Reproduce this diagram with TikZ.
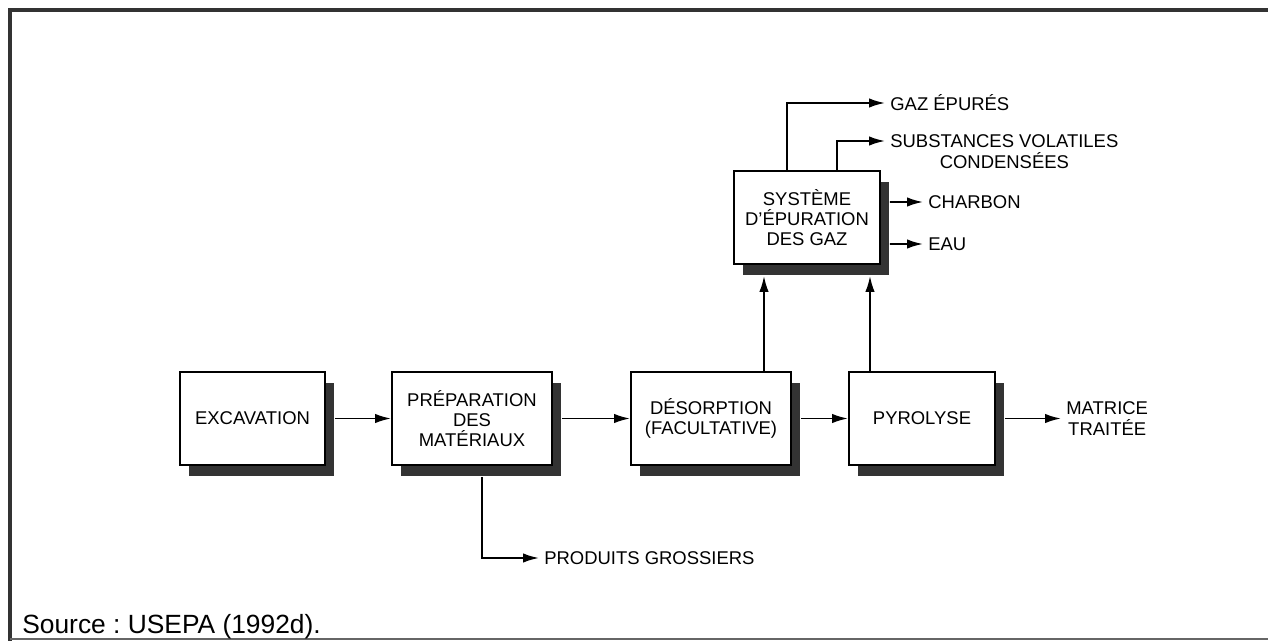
\documentclass[tikz,border=0pt]{standalone}
\usepackage{fontspec}
\setmainfont{Liberation Sans}
\usetikzlibrary{arrows.meta,shadows}

\begin{document}
\begin{tikzpicture}[
    bloc/.style={draw, line width=1.1pt, fill=white, rectangle,
                 minimum height=1.86cm, align=center,
                 font=\fontsize{10.5}{11.4}\selectfont,
                 drop shadow={shadow xshift=0.18cm, shadow yshift=-0.22cm,
                              fill=black!80, opacity=1}},
    flux/.style={-{Latex[length=0.32cm,width=0.19cm]}, line width=1.1pt},
    sortie/.style={anchor=west, inner sep=0.1cm, align=center,
                   font=\fontsize{10.5}{11.8}\selectfont}
]
\useasboundingbox (0,0) rectangle (25.36,-12.82);

% Cadre
\draw[line width=0.08cm, black!80] (0.2,-12.82) -- (0.2,-0.2) -- (25.36,-0.2);
\draw[line width=0.03cm, black!60] (0.2,-12.78) -- (25.36,-12.78);

% Blocs
\node[bloc, minimum width=2.9cm]  (exc)  at (5.05,-8.37)  {EXCAVATION};
\node[bloc, minimum width=3.2cm]  (prep) at (9.44,-8.37)  {PRÉPARATION\\DES\\MATÉRIAUX};
\node[bloc, minimum width=3.2cm]  (des)  at (14.22,-8.37) {DÉSORPTION\\(FACULTATIVE)};
\node[bloc, minimum width=2.92cm] (pyr)  at (18.44,-8.37) {PYROLYSE};
\node[bloc, minimum width=2.92cm] (sys)  at (16.14,-4.35) {SYSTÈME\\D'ÉPURATION\\DES GAZ};

% Sorties
\node[sortie] (matrice) at (21.22,-8.37) {MATRICE\\TRAITÉE};
\node[sortie] (prod)    at (10.78,-11.16) {PRODUITS GROSSIERS};
\node[sortie] (gaz)     at (17.7,-2.06)  {GAZ ÉPURÉS};
\node[sortie] (subs)    at (17.7,-3.03)  {SUBSTANCES VOLATILES\\CONDENSÉES};
\node[sortie] (charbon) at (18.46,-4.04) {CHARBON};
\node[sortie] (eau)     at (18.46,-4.88) {EAU};

% Chaine principale
\draw[flux] ([xshift=0.18cm]exc.east)  -- (prep.west);
\draw[flux] ([xshift=0.18cm]prep.east) -- (des.west);
\draw[flux] ([xshift=0.18cm]des.east)  -- (pyr.west);
\draw[flux] ([xshift=0.18cm]pyr.east)  -- (matrice.west);
\draw[flux] ([xshift=0.2cm,yshift=-0.22cm]prep.south) |- (prod.west);

% Vers le systeme d'epuration
\coordinate (sysbas) at ([yshift=-0.22cm]sys.south);
\coordinate (desh)   at ([xshift=1.06cm]des.north);
\coordinate (pyrh)   at ([xshift=-1.04cm]pyr.north);
\draw[flux] (desh) -- (desh |- sysbas);
\draw[flux] (pyrh) -- (pyrh |- sysbas);

% Sorties du systeme
\draw[flux] ([xshift=-0.4cm]sys.north) |- (gaz.west);
\draw[flux] ([xshift=0.6cm]sys.north) |- ([yshift=0.21cm]subs.west);
\draw[flux] ([xshift=0.18cm,yshift=0.31cm]sys.east)  -- (charbon.west);
\draw[flux] ([xshift=0.18cm,yshift=-0.53cm]sys.east) -- (eau.west);

% Source
\node[anchor=base west, inner sep=0pt, font=\fontsize{15}{18}\selectfont\frenchspacing]
    (source) at (0.44,-12.66) {Source : USEPA (1992d).};

\end{tikzpicture}
\end{document}
